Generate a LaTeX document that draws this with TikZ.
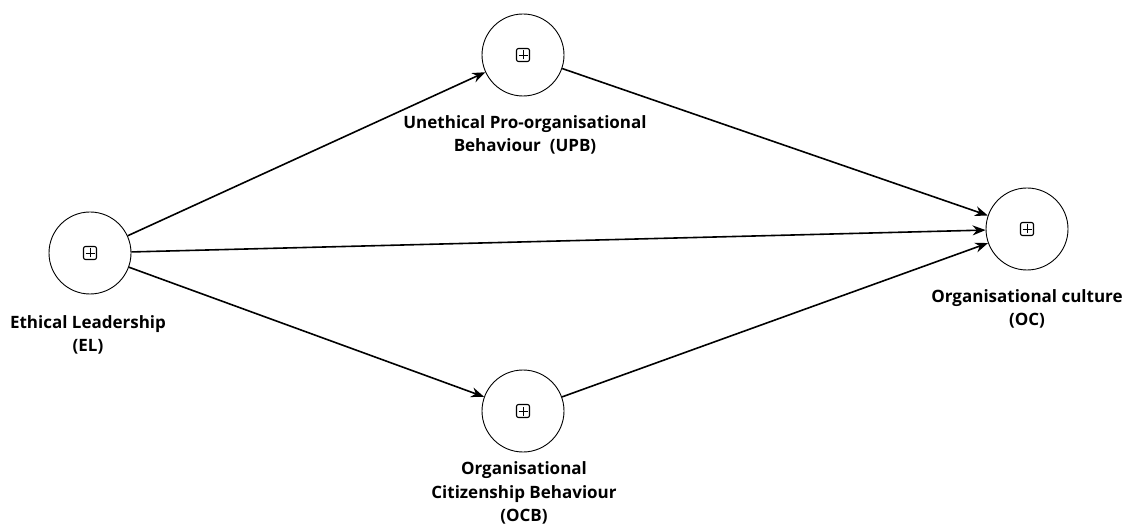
\documentclass[tikz,border=0pt]{standalone}
\usepackage{fontspec}
\setmainfont{Open Sans}
\usetikzlibrary{arrows.meta, positioning}

\begin{document}
\begin{tikzpicture}[x=1pt, y=-1pt, >={Stealth[length=13pt, width=10pt]}, line width=1.6pt]
        % styles for the constructs and their labels
        \tikzstyle{construct} = [draw, circle, line width=0.9pt, minimum size=82pt, inner sep=0pt,
            path picture={
                \draw[line width=1.1pt, rounded corners=2pt] ([shift={(-6.5pt,-6.5pt)}]path picture bounding box.center) rectangle ++(13pt,13pt);
                \draw[line width=0.9pt] ([shift={(-4.5pt,0pt)}]path picture bounding box.center) -- ++(9pt,0pt);
                \draw[line width=0.9pt] ([shift={(0pt,-4.5pt)}]path picture bounding box.center) -- ++(0pt,9pt);
            }]
        \tikzstyle{caption} = [align=center, font=\bfseries\fontsize{17}{23.5}\selectfont, inner sep=0pt]

        \useasboundingbox (0,0) rectangle (1124,526);

        % Nodes
        \node [construct] at (90,253) (leadership) {};
        \node [construct] at (523,55) (unethical) {};
        \node [construct] at (523,411) (citizenship) {};
        \node [construct] at (1027,229) (culture) {};

        \node [caption] at (88,335) (leadershipText) {Ethical Leadership\\(EL)};
        \node [caption] at (525,135) (unethicalText) {Unethical Pro-organisational\\Behaviour~~(UPB)};
        \node [caption] at (524,493) (citizenshipText) {Organisational\\Citizenship Behaviour\\(OCB)};
        \node [caption] at (1027,309) (cultureText) {Organisational culture\\(OC)};

        % Lines
        \draw [->] (leadership) -- (unethical);
        \draw [->] (leadership) -- (culture);
        \draw [->] (leadership) -- (citizenship);
        \draw [->] (unethical) -- (culture);
        \draw [->] (citizenship) -- (culture);

\end{tikzpicture}
\end{document}
